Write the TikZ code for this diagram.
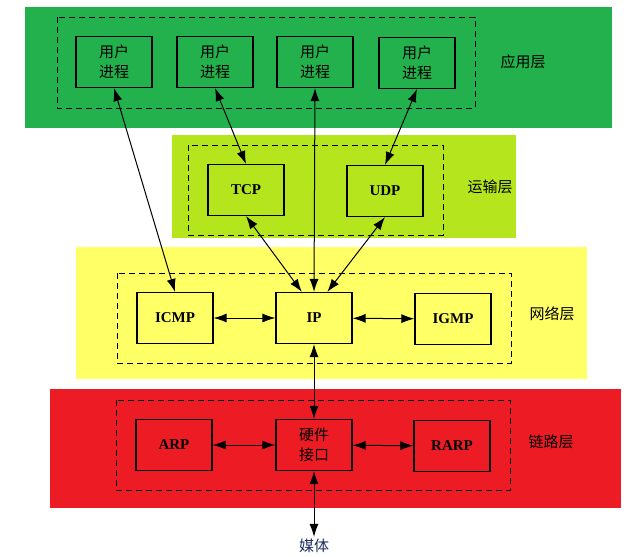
\documentclass[tikz,border=0pt]{standalone}
\usepackage{fontspec}
\setmainfont{Liberation Serif}
\newfontfamily\cjk{Noto Sans CJK SC}
\usetikzlibrary{arrows.meta}
\definecolor{appgreen}{HTML}{22B14C}
\definecolor{translime}{HTML}{B5E61D}
\definecolor{netyellow}{HTML}{FFFF66}
\definecolor{linkred}{HTML}{ED1C24}
\definecolor{medianavy}{RGB}{30,45,95}
\begin{document}
\begin{tikzpicture}[x=1pt,y=-1pt,
  proc/.style={draw,line width=1.1pt,minimum width=76pt,minimum height=51pt,align=center,
    font=\cjk\fontsize{15}{20}\selectfont},
  prot/.style={draw,line width=1.1pt,minimum width=76pt,minimum height=51pt,
    font=\fontsize{15}{18}\selectfont\bfseries},
  layer/.style={font=\cjk\fontsize{15}{18}\selectfont},
  group/.style={line width=0.9pt,dash pattern=on 6pt off 4pt},
  link/.style={line width=1pt,
    arrows={Latex[length=13pt,width=9pt]-Latex[length=13pt,width=9pt]}}]
\useasboundingbox (0,0) rectangle (635,557);
% layer bands
\fill[appgreen] (25,7) rectangle (612,128);
\fill[translime] (172,135) rectangle (516,238);
\fill[netyellow] (76,247) rectangle (587,379);
\fill[linkred] (50,389) rectangle (621,508);
\draw[group] (57,17) rectangle (475,108);
\draw[group] (188,145) rectangle (443,235);
\draw[group] (117,273) rectangle (511,363);
\draw[group] (116,400) rectangle (510,490);
% boxes
\node[proc] (user1) at (114,62) {用户\\进程};
\node[proc] (user2) at (215,62) {用户\\进程};
\node[proc] (user3) at (315,62) {用户\\进程};
\node[proc] (user4) at (417,63) {用户\\进程};
\node[prot] (tcp) at (246,190) {TCP};
\node[prot] (udp) at (385,191) {UDP};
\node[prot] (icmp) at (175,318) {ICMP};
\node[prot] (ip) at (314,318) {IP};
\node[prot] (igmp) at (453,319) {IGMP};
\node[prot] (arp) at (174,445) {ARP};
\node[proc] (hw) at (314,445) {硬件\\接口};
\node[prot] (rarp) at (452,446) {RARP};
\node[layer,text=medianavy,inner sep=2pt] (media) at (314,546) {媒体};
% layer names
\node[layer] (app) at (523,62) {应用层};
\node[layer] (trans) at (490,187) {运输层};
\node[layer] (net) at (552,314) {网络层};
\node[layer] (lnk) at (551,442) {链路层};
% connections
\draw[link] (user1.south) -- (icmp.north);
\draw[link] (user2.south) -- (tcp.north);
\draw[link] (user3.south) -- (ip.north);
\draw[link] (user4.south) -- (udp.north);
\draw[link] (tcp.south) -- (ip.115);
\draw[link] (udp.south) -- (ip.63);
\draw[link] (icmp) -- (ip);
\draw[link] (ip) -- (igmp);
\draw[link] (ip.south) -- (hw.north);
\draw[link] (arp) -- (hw);
\draw[link] (hw) -- (rarp);
\draw[link] (hw.south) -- (media.north);
\end{tikzpicture}
\end{document}
